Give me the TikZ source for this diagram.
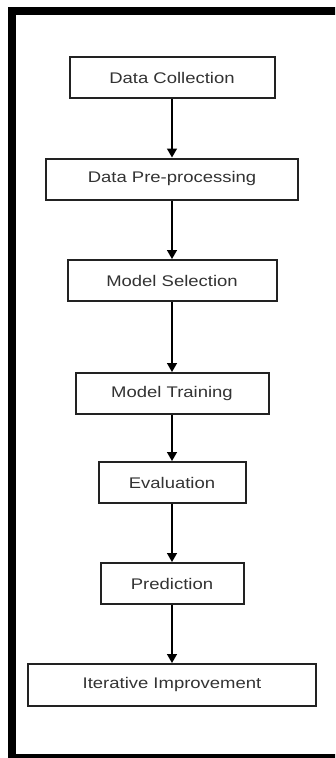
\documentclass[tikz,border=0pt]{standalone}
\usepackage{fontspec}
\setmainfont[FakeStretch=1.2]{Liberation Sans}
\usetikzlibrary{arrows.meta}
\definecolor{boxline}{HTML}{222222}
\definecolor{txt}{HTML}{333333}
\tikzset{
  stage/.style={draw=boxline, line width=2pt, fill=white, minimum height=41pt,
    inner sep=0pt, text=txt, font=\fontsize{15.4pt}{18pt}\selectfont},
  flow/.style={draw=black, line width=1.4pt, -{Triangle[width=10pt,length=9pt]}},
}
\begin{document}
\begin{tikzpicture}[x=1pt,y=-1pt]
\useasboundingbox (0,0) rectangle (335,758);
\fill[white] (0,0) rectangle (335,758);
\begin{scope}
\clip (0,0) rectangle (335,758);
\draw[line width=8pt, black] (12,11) rectangle (345,758);
\end{scope}
\node[stage, minimum width=205pt] (dc) at (172,77.5) {Data Collection};
\node[stage, minimum width=252pt] (dp) at (172,179) {Data Pre-processing};
\node[stage, minimum width=209pt] (ms) at (172,280.5) {Model Selection};
\node[stage, minimum width=193pt] (mt) at (172,393.5) {Model Training};
\node[stage, minimum width=147pt] (ev) at (172,482.5) {Evaluation};
\node[stage, minimum width=143pt] (pr) at (172,583.5) {Prediction};
\node[stage, minimum width=288pt, minimum height=42pt] (ii) at (172,685) {Iterative Improvement};
\draw[flow] (dc) -- (dp);
\draw[flow] (dp) -- (ms);
\draw[flow] (ms) -- (mt);
\draw[flow] (mt) -- (ev);
\draw[flow] (ev) -- (pr);
\draw[flow] (pr) -- (ii);
\end{tikzpicture}
\end{document}
